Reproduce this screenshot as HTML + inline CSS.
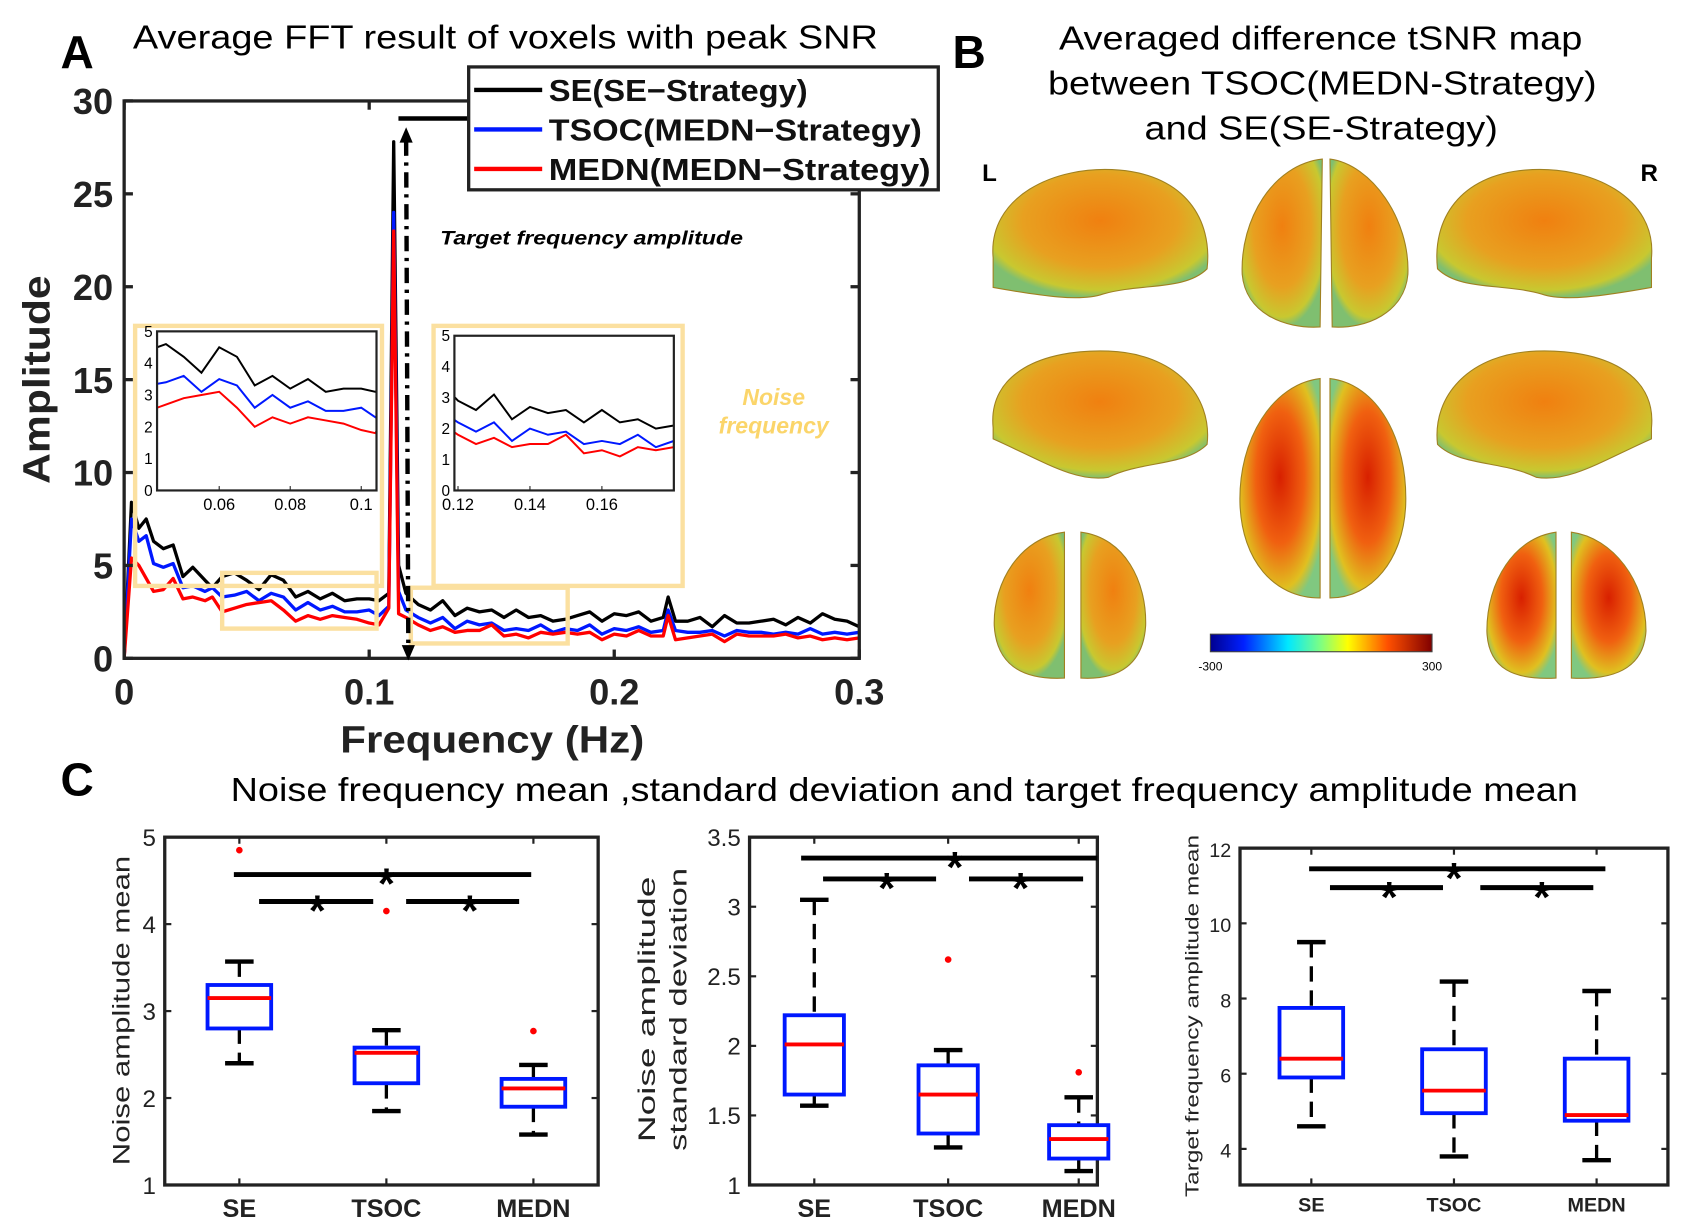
<!DOCTYPE html>
<html><head><meta charset="utf-8"><style>
html,body{margin:0;padding:0;background:#fff;}
svg{display:block;}
text{font-family:"Liberation Sans",sans-serif;}
</style></head><body>
<svg id="fig" width="1701" height="1219" viewBox="0 0 1550 1111">
<defs>
<linearGradient id="jet" x1="0" x2="1" y1="0" y2="0">
<stop offset="0" stop-color="#00008f"/><stop offset="0.15" stop-color="#0020ff"/><stop offset="0.35" stop-color="#00e8ff"/><stop offset="0.5" stop-color="#80ff80"/><stop offset="0.62" stop-color="#ffff00"/><stop offset="0.8" stop-color="#ff5000"/><stop offset="1" stop-color="#800000"/>
</linearGradient>
<radialGradient id="brain" cx="0.5" cy="0.4" r="0.6">
<stop offset="0" stop-color="#f08010"/><stop offset="0.6" stop-color="#e8a020"/><stop offset="0.9" stop-color="#c8c830"/><stop offset="1" stop-color="#7fbf70"/>
</radialGradient>
<radialGradient id="brainR" cx="0.5" cy="0.45" r="0.6">
<stop offset="0" stop-color="#d82000"/><stop offset="0.5" stop-color="#f06010"/><stop offset="0.85" stop-color="#e0c020"/><stop offset="1" stop-color="#80c880"/>
</radialGradient>
</defs>
<g id="root"></g>
</svg>
<script>
// ---- Panel A data ----
const freqs=[0,0.003,0.006,0.009,0.012,0.016,0.020,0.024,0.028,0.033,0.036,0.040,0.045,0.050,0.055,0.060,0.065,0.070,0.075,0.080,0.085,0.090,0.095,0.100,0.104,0.108,0.110,0.112,0.115,0.120,0.125,0.130,0.135,0.140,0.145,0.150,0.155,0.160,0.165,0.170,0.175,0.180,0.185,0.190,0.195,0.200,0.205,0.210,0.215,0.220,0.222,0.225,0.230,0.235,0.240,0.245,0.250,0.255,0.260,0.265,0.270,0.275,0.280,0.285,0.290,0.295,0.300];
const seAmp=[0,8.4,7,7.5,6.3,5.9,6.1,4.4,4.9,4.2,3.8,4.4,4.6,4.2,3.7,4.5,4.2,3.3,3.6,3.2,3.5,3.1,3.2,3.2,3.1,3.5,27.8,5,3.5,2.9,2.6,3.1,2.3,2.7,2.5,2.6,2.2,2.6,2.2,2.3,2.0,2.1,2.3,2.5,2.0,2.4,2.3,2.5,2.0,2.2,3.3,2.0,2.0,2.2,1.7,2.3,1.9,1.9,2.0,2.1,1.8,2.2,1.9,2.4,2.1,2.0,1.7];
const tsocAmp=[0,7.5,6.3,6.6,5.1,4.9,5.1,3.8,3.9,3.6,3.8,3.3,3.4,3.6,3.1,3.5,3.3,2.6,3.0,2.6,2.8,2.5,2.5,2.6,2.3,2.8,24,3.6,2.6,2.2,1.9,2.2,1.6,2.0,1.8,1.9,1.5,1.6,1.5,1.8,1.4,1.6,1.5,1.8,1.3,1.6,1.5,1.7,1.4,1.5,2.6,1.5,1.4,1.4,1.5,1.2,1.5,1.4,1.4,1.3,1.4,1.3,1.6,1.3,1.4,1.3,1.4];
const mednAmp=[0,5.4,5,4.3,3.6,3.7,4.3,3.2,3.3,3.1,3.3,2.5,2.7,2.9,3.0,3.1,2.6,2.0,2.3,2.1,2.3,2.2,2.1,1.9,1.8,2.7,23,2.4,2.2,1.8,1.5,1.7,1.4,1.5,1.5,1.8,1.2,1.3,1.1,1.4,1.3,1.4,1.3,1.4,1.0,1.3,1.2,1.5,1.2,1.2,2.3,1.0,1.1,1.2,1.3,0.9,1.3,1.2,1.2,1.2,1.3,1.1,1.2,1.0,1.1,1.0,1.1];
const seriesNames=["SE(SE\u2212Strategy)","TSOC(MEDN\u2212Strategy)","MEDN(MEDN\u2212Strategy)"];
const seriesColors=["#000","#0018ff","#ff0000"];
const xTicksA=[0,0.1,0.2,0.3], xTickLabelsA=["0","0.1","0.2","0.3"];
const yTicksA=[0,5,10,15,20,25,30];
// ---- Panel C data ----
const cats=["SE","TSOC","MEDN"];
const p1Low=[2.4,1.85,1.58], p1Q1=[2.8,2.17,1.9], p1Med=[3.15,2.52,2.11], p1Q3=[3.3,2.58,2.22], p1High=[3.57,2.78,2.38], p1Out=[4.85,4.15,2.77];
const p2Low=[1.57,1.27,1.1], p2Q1=[1.65,1.37,1.19], p2Med=[2.01,1.65,1.33], p2Q3=[2.22,1.86,1.43], p2High=[3.05,1.97,1.63], p2Out=[null,2.62,1.81];
const p3Low=[4.6,3.8,3.7], p3Q1=[5.9,4.95,4.75], p3Med=[6.4,5.55,4.9], p3Q3=[7.75,6.65,6.4], p3High=[9.5,8.45,8.2], p3Out=[null,null,null];
const p1Ticks=[1,2,3,4,5], p2Ticks=[1,1.5,2,2.5,3,3.5], p3Ticks=[4,6,8,10,12];

const NS="http://www.w3.org/2000/svg";
const root=document.getElementById('root');
function el(tag,attrs,parent,txt){const e=document.createElementNS(NS,tag);for(const k in attrs)e.setAttribute(k,attrs[k]);if(txt!==undefined)e.textContent=txt;(parent||root).appendChild(e);return e;}
const SG='spacingAndGlyphs';

// ===== Panel A =====
const A={x0:113,x1:783,y0:600,y1:92,xmin:0,xmax:0.3,ymin:0,ymax:30};
const ax=v=>A.x0+(v-A.xmin)/(A.xmax-A.xmin)*(A.x1-A.x0);
const ay=v=>A.y0-(v-A.ymin)/(A.ymax-A.ymin)*(A.y0-A.y1);
let t;
t=el('text',{x:55,y:62,'font-size':42,'font-weight':'bold'},root,'A');

t=el('text',{x:121,y:44,'font-size':30,textLength:679,lengthAdjust:SG},root,'Average FFT result of voxels with peak SNR');

const gA=el('g',{});

[seAmp,tsocAmp,mednAmp].forEach((arr,i)=>{
  const p=el('polyline',{points:freqs.map((f,j)=>ax(f)+','+ay(arr[j])).join(' '),fill:'none',stroke:seriesColors[i],'stroke-width':3,'stroke-linejoin':'round'},gA);
  
});
const frameA=el('rect',{x:A.x0,y:A.y1,width:A.x1-A.x0,height:A.y0-A.y1,fill:'none',stroke:'#222','stroke-width':3},gA);

xTicksA.forEach((v,i)=>{
  el('line',{x1:ax(v),x2:ax(v),y1:A.y0,y2:A.y0-8,stroke:'#222','stroke-width':3},gA);
  el('line',{x1:ax(v),x2:ax(v),y1:A.y1,y2:A.y1+8,stroke:'#222','stroke-width':3},gA);
  const l=el('text',{x:ax(v),y:A.y0+42,'font-size':33,'font-weight':'bold','text-anchor':'middle',fill:'#222'},gA,xTickLabelsA[i]);
  
});
yTicksA.forEach(v=>{
  el('line',{x1:A.x0,x2:A.x0+8,y1:ay(v),y2:ay(v),stroke:'#222','stroke-width':3},gA);
  el('line',{x1:A.x1,x2:A.x1-8,y1:ay(v),y2:ay(v),stroke:'#222','stroke-width':3},gA);
  const l=el('text',{x:A.x0-10,y:ay(v)+12,'font-size':33,'font-weight':'bold','text-anchor':'end',fill:'#222'},gA,String(v));
  
});
t=el('text',{x:310,y:686,'font-size':35,'font-weight':'bold',fill:'#222',textLength:277,lengthAdjust:SG},root,'Frequency (Hz)');

t=el('text',{x:0,y:0,'font-size':35,'font-weight':'bold','text-anchor':'middle',fill:'#222',transform:'translate(45,346) rotate(-90)',textLength:190,lengthAdjust:SG},root,'Amplitude');

// yellow frames on main
[[0.04,0.103,1.6,4.6],[0.117,0.181,0.8,3.8]].forEach((b,i)=>{
  const r=el('rect',{x:ax(b[0]),y:ay(b[3]),width:ax(b[1])-ax(b[0]),height:ay(b[2])-ay(b[3]),fill:'none',stroke:'#fbe0a0','stroke-width':4});
  
});
// arrow
const arr=el('g',{});
el('line',{x1:363,x2:430,y1:108,y2:108,stroke:'#000','stroke-width':4},arr);
el('line',{x1:370,x2:372,y1:128,y2:590,stroke:'#000','stroke-width':4,'stroke-dasharray':'14 6 3 6'},arr);
el('polygon',{points:'364,130 376,130 370,116',fill:'#000'},arr);
el('polygon',{points:'366,588 378,588 372,602',fill:'#000'},arr);
t=el('text',{x:401,y:223,'font-size':18,'font-weight':'bold','font-style':'italic',textLength:276,lengthAdjust:SG},root,'Target frequency amplitude');

t=el('text',{x:705,y:369,'font-size':21,'font-weight':'bold','font-style':'italic','text-anchor':'middle',fill:'#fbd56a'},root,'Noise');

el('text',{x:705,y:395,'font-size':21,'font-weight':'bold','font-style':'italic','text-anchor':'middle',fill:'#fbd56a'},root,'frequency');
// legend
const lg=el('g',{});
el('rect',{x:427,y:61,width:428,height:112,fill:'#fff',stroke:'#222','stroke-width':3},lg);
const legLens=[236,340,348];
seriesNames.forEach((n,i)=>{
  const y=82+i*36;
  const e=el('g',{},lg);
  el('line',{x1:432,x2:494,y1:y,y2:y,stroke:seriesColors[i],'stroke-width':4},e);
  el('text',{x:500,y:y+10,'font-size':28,'font-weight':'bold',fill:'#111',textLength:legLens[i],lengthAdjust:SG},e,n);
});
// insets
function inset(name,fx,fy,fw,fh,px0,px1,py0,py1,xmin,xmax,xt,xtl){
  const g=el('g',{});
  el('rect',{x:px0,y:py1,width:px1-px0,height:py0-py1,fill:'#fff'},g);
  el('rect',{x:fx,y:fy,width:fw,height:fh,fill:'none',stroke:'#fbe0a0','stroke-width':4},g);
  const sx=v=>px0+(v-xmin)/(xmax-xmin)*(px1-px0), sy=v=>py0-v/5*(py0-py1);
  const clip=el('clipPath',{id:name+'c'},g);
  el('rect',{x:px0,y:py1,width:px1-px0,height:py0-py1},clip);
  [seAmp,tsocAmp,mednAmp].forEach((a,i)=>{
    const pts=[];freqs.forEach((f,j)=>{if(f>=xmin-0.006&&f<=xmax+0.006&&a[j]<10)pts.push(sx(f)+','+sy(a[j]));});
    const p=el('polyline',{points:pts.join(' '),fill:'none',stroke:seriesColors[i],'stroke-width':1.8,'clip-path':'url(#'+name+'c)'},g);
    
  });
  el('rect',{x:px0,y:py1,width:px1-px0,height:py0-py1,fill:'none',stroke:'#222','stroke-width':2},g);
  [0,1,2,3,4,5].forEach(v=>el('text',{x:px0-4,y:sy(v)+5,'font-size':14,'text-anchor':'end'},g,String(v)));
  xt.forEach((v,i)=>{el('line',{x1:sx(v),x2:sx(v),y1:py0,y2:py0-4,stroke:'#222'},g);el('text',{x:sx(v),y:py0+18,'font-size':15,'text-anchor':'middle'},g,xtl[i]);});
}
inset('inset-low-noise',123,297,225,237,143,343,447,302,0.0425,0.1043,[0.06,0.08,0.1],['0.06','0.08','0.1']);
inset('inset-high-noise',395,297,227,237,414,614,447,306,0.119,0.18,[0.12,0.14,0.16],['0.12','0.14','0.16']);

// ===== Panel B =====
t=el('text',{x:868,y:62,'font-size':42,'font-weight':'bold'},root,'B');

[['Averaged difference tSNR map',965,477],['between TSOC(MEDN-Strategy)',955,500],['and SE(SE-Strategy)',1043,322]].forEach((s,i)=>{
  const tt=el('text',{x:s[1],y:45+i*41,'font-size':30,textLength:s[2],lengthAdjust:SG},root,s[0]);
  
});
el('text',{x:895,y:165,'font-size':22,'font-weight':'bold'},root,'L');
el('text',{x:1495,y:165,'font-size':22,'font-weight':'bold'},root,'R');
const brains=[
 ['brain-left-lateral','M905,235 C900,180 960,150 1020,155 C1080,160 1105,200 1100,245 C1080,265 1040,258 1005,268 C985,275 950,270 905,262 Z','url(#brain)'],
 ['brain-top-left','M1205,145 C1160,150 1130,200 1132,250 C1135,285 1170,300 1203,298 Z','url(#brain)'],
 ['brain-top-right','M1212,145 C1250,150 1285,200 1283,250 C1280,285 1245,300 1214,298 Z','url(#brain)'],
 ['brain-right-lateral','M1505,235 C1510,180 1450,150 1390,155 C1330,160 1305,200 1310,245 C1330,265 1370,258 1405,268 C1425,275 1460,270 1505,262 Z','url(#brain)'],
 ['brain-left-medial','M905,390 C900,340 950,318 1010,320 C1070,322 1105,360 1100,405 C1080,425 1040,420 1010,435 C980,440 950,420 905,400 Z','url(#brain)'],
 ['brain-bottom-left','M1203,345 C1160,350 1128,400 1130,460 C1132,510 1160,545 1203,545 Z','url(#brainR)'],
 ['brain-bottom-right','M1212,345 C1255,350 1283,400 1281,460 C1279,510 1250,545 1212,545 Z','url(#brainR)'],
 ['brain-right-medial','M1505,390 C1510,340 1460,318 1400,320 C1340,322 1305,360 1310,405 C1330,425 1370,420 1400,435 C1430,440 1460,420 1505,400 Z','url(#brain)'],
 ['brain-front-left','M970,485 C930,490 905,530 906,570 C908,605 930,620 970,618 Z','url(#brain)'],
 ['brain-front-right','M985,485 C1025,490 1045,530 1044,570 C1042,605 1020,620 985,618 Z','url(#brain)'],
 ['brain-back-left','M1418,485 C1380,490 1355,530 1355,575 C1356,610 1380,620 1418,618 Z','url(#brainR)'],
 ['brain-back-right','M1432,485 C1470,490 1500,530 1500,575 C1498,610 1470,620 1432,618 Z','url(#brainR)']
];
brains.forEach(b=>{const p=el('path',{d:b[1],fill:b[2],stroke:'#a08020','stroke-width':1});});
const cb=el('rect',{x:1103,y:578,width:202,height:16,fill:'url(#jet)',stroke:'#444','stroke-width':1});

el('text',{x:1103,y:611,'font-size':11,'text-anchor':'middle'},root,'-300');
el('text',{x:1305,y:611,'font-size':11,'text-anchor':'middle'},root,'300');

// ===== Panel C =====
t=el('text',{x:55,y:725,'font-size':42,'font-weight':'bold'},root,'C');

t=el('text',{x:210,y:730,'font-size':30,textLength:1228,lengthAdjust:SG},root,'Noise frequency mean ,standard deviation and target frequency amplitude mean');


function boxplot(cfg){
  const g=el('g',{});
  const sy=v=>cfg.y0-(v-cfg.ymin)/(cfg.ymax-cfg.ymin)*(cfg.y0-cfg.y1);
  el('rect',{x:cfg.x0,y:cfg.y1,width:cfg.x1-cfg.x0,height:cfg.y0-cfg.y1,fill:'none',stroke:'#222','stroke-width':3},g);
  cfg.ticks.forEach(v=>{
    el('line',{x1:cfg.x0,x2:cfg.x0+6,y1:sy(v),y2:sy(v),stroke:'#222','stroke-width':2},g);
    el('line',{x1:cfg.x1,x2:cfg.x1-6,y1:sy(v),y2:sy(v),stroke:'#222','stroke-width':2},g);
    const l=el('text',{x:cfg.x0-8,y:sy(v)+8,'font-size':cfg.tfs,'text-anchor':'end',fill:'#222'},g,String(v));
    
  });
  cats.forEach((c,i)=>{
    const cx=cfg.cx[i], w=cfg.bw;
    el('line',{x1:cx,x2:cx,y1:cfg.y0,y2:cfg.y0-6,stroke:'#222','stroke-width':2},g);
    el('line',{x1:cx,x2:cx,y1:cfg.y1,y2:cfg.y1+6,stroke:'#222','stroke-width':2},g);
    const lb=el('text',{x:cx,y:cfg.y0+cfg.lo,'font-size':cfg.lfs,'font-weight':'bold','text-anchor':'middle',fill:'#222'},g,c);
    
    const bx=el('g',{},g);
    el('line',{x1:cx,x2:cx,y1:sy(cfg.high[i]),y2:sy(cfg.q3[i]),stroke:'#000','stroke-width':3,'stroke-dasharray':'14 8'},bx);
    el('line',{x1:cx,x2:cx,y1:sy(cfg.q1[i]),y2:sy(cfg.low[i]),stroke:'#000','stroke-width':3,'stroke-dasharray':'14 8'},bx);
    el('line',{x1:cx-13,x2:cx+13,y1:sy(cfg.high[i]),y2:sy(cfg.high[i]),stroke:'#000','stroke-width':4},bx);
    el('line',{x1:cx-13,x2:cx+13,y1:sy(cfg.low[i]),y2:sy(cfg.low[i]),stroke:'#000','stroke-width':4},bx);
    el('rect',{x:cx-w/2,y:sy(cfg.q3[i]),width:w,height:sy(cfg.q1[i])-sy(cfg.q3[i]),fill:'#fff',stroke:'#0018ff','stroke-width':3.5},bx);
    el('line',{x1:cx-w/2,x2:cx+w/2,y1:sy(cfg.med[i]),y2:sy(cfg.med[i]),stroke:'#ff0000','stroke-width':3.5},bx);
    if(cfg.out[i]!==null){const o=el('circle',{cx:cx,cy:sy(cfg.out[i]),r:3,fill:'#ff0000'},bx);}
  });
  cfg.sig.forEach(s=>{
    const b=el('g',{},g);
    el('line',{x1:s[0],x2:s[1],y1:sy(s[2]),y2:sy(s[2]),stroke:'#000','stroke-width':4.5},b);
    el('text',{x:s[3],y:sy(s[2])+22,'font-size':40,'font-weight':'bold','text-anchor':'middle'},b,'*');
  });
  const yl=el('g',{transform:'translate('+cfg.ylx+','+cfg.ylc+') rotate(-90)'},g);
  
  cfg.ylabel.forEach((s,i)=>el('text',{x:0,y:i*cfg.yfs*1.3,'font-size':cfg.yfs,'text-anchor':'middle',fill:'#222',textLength:cfg.yll[i],lengthAdjust:SG},yl,s));
}
boxplot({name:'noise-mean-boxplot',x0:150,x1:545,y0:1080,y1:763,ymin:1,ymax:5,ticks:p1Ticks,cx:[218,352,486],bw:58,
  low:p1Low,q1:p1Q1,med:p1Med,q3:p1Q3,high:p1High,out:p1Out,tfs:22,lfs:23,lo:29,
  sig:[[213,484,4.57,352],[236,340,4.26,289],[370,473,4.26,428]],ylabel:['Noise amplitude mean'],yll:[282],ylx:118,ylc:921,yfs:22});
boxplot({name:'noise-sd-boxplot',x0:683,x1:1000,y0:1080,y1:763,ymin:1,ymax:3.5,ticks:p2Ticks,cx:[742,864,983],bw:54,
  low:p2Low,q1:p2Q1,med:p2Med,q3:p2Q3,high:p2High,out:p2Out,tfs:22,lfs:23,lo:29,
  sig:[[730,1000,3.35,870],[750,853,3.2,808],[883,987,3.2,930]],ylabel:['Noise amplitude','standard deviation'],yll:[242,258],ylx:597,ylc:920,yfs:22});
boxplot({name:'target-amplitude-boxplot',x0:1130,x1:1520,y0:1080,y1:773,ymin:3.04,ymax:12,ticks:p3Ticks,cx:[1195,1325,1455],bw:58,
  low:p3Low,q1:p3Q1,med:p3Med,q3:p3Q3,high:p3High,out:p3Out,tfs:18,lfs:18,lo:24,
  sig:[[1193,1463,11.45,1325],[1212,1315,10.95,1266],[1349,1452,10.95,1405]],ylabel:['Target frequency amplitude mean'],yll:[330],ylx:1092,ylc:926,yfs:17});
</script>
</body></html>
